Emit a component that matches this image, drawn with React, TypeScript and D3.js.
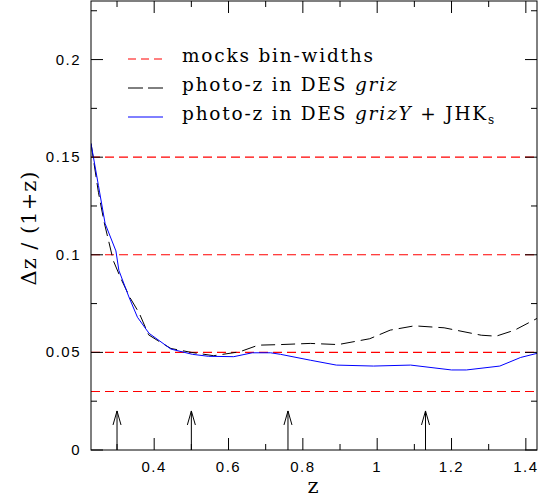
import React from "react";
import * as d3 from "d3";

const W = 546;
const H = 499;

// horizontal reference lines (mock bin widths)
const binWidths = [0.03, 0.05, 0.1, 0.15];
// arrows marking the bin centres
const arrowZ = [0.3, 0.5, 0.76, 1.13];

// photo-z in DES griz (dashed black)
const grizZ = [0.23, 0.25, 0.265, 0.29, 0.31, 0.335, 0.36, 0.385, 0.41, 0.445, 0.5, 0.56, 0.63, 0.68, 0.74, 0.82, 0.895, 0.98, 1.035, 1.1, 1.18, 1.28, 1.32, 1.37, 1.43];
const grizDz = [0.157, 0.132, 0.117, 0.097, 0.088, 0.078, 0.07, 0.059, 0.056, 0.052, 0.05, 0.0483, 0.0503, 0.0537, 0.054, 0.0546, 0.054, 0.057, 0.0614, 0.0636, 0.0626, 0.0588, 0.0583, 0.0614, 0.0674];

// photo-z in DES grizY + JHKs (solid blue)
const nirZ = [0.23, 0.25, 0.268, 0.297, 0.305, 0.332, 0.355, 0.386, 0.445, 0.503, 0.546, 0.614, 0.664, 0.713, 0.74, 0.82, 0.89, 0.99, 1.09, 1.2, 1.24, 1.33, 1.386, 1.43];
const nirDz = [0.157, 0.1355, 0.116, 0.102, 0.092, 0.0784, 0.068, 0.0598, 0.0517, 0.049, 0.048, 0.0478, 0.0498, 0.0498, 0.049, 0.046, 0.0435, 0.043, 0.0435, 0.041, 0.041, 0.043, 0.0474, 0.0495];

const xMajor = [0.4, 0.6, 0.8, 1, 1.2, 1.4];
const xMinor = [0.3, 0.5, 0.7, 0.9, 1.1, 1.3];
const xTickLabels = ["0.4", "0.6", "0.8", "1", "1.2", "1.4"];
const yMajor = [0, 0.05, 0.1, 0.15, 0.2];
const yMinor = [0.025, 0.075, 0.125, 0.175, 0.225];
const yTickLabels = ["0", "0.05", "0.1", "0.15", "0.2"];

const left = 91, right = 537, top = 1, bottom = 450;

const x = d3.scaleLinear().domain([0.23, 1.43]).range([left, right]);
const y = d3.scaleLinear().domain([0, 0.23]).range([bottom, top]);

const line = d3.line<[number, number]>()
  .x(d => x(d[0]))
  .y(d => y(d[1]))
  .curve(d3.curveLinear);

const tickFont = "'Liberation Sans', sans-serif";
const textFont = "'DejaVu Serif', serif";

export default function App() {
  const griz = line(grizZ.map((z, i) => [z, grizDz[i]] as [number, number])) || "";
  const nir = line(nirZ.map((z, i) => [z, nirDz[i]] as [number, number])) || "";

  const majLen = 12, minLen = 6;

  return (
    <svg width={W} height={H} style={{ position: "absolute", left: 0, top: 0, background: "#fff" }}>
      <defs>
        <clipPath id="plot">
          <rect x={left} y={top} width={right - left} height={bottom - top} />
        </clipPath>
      </defs>

      {/* bin-width lines */}
      <g stroke="#ff0000" strokeWidth={1.1} strokeDasharray="9,5">
        {binWidths.map(b => (
          <line key={b} x1={left} x2={right} y1={y(b)} y2={y(b)} />
        ))}
      </g>

      {/* curves */}
      <g clipPath="url(#plot)" fill="none">
        <path d={griz} stroke="#000" strokeWidth={1} strokeDasharray="14,6" />
        <path d={nir} stroke="#0000ff" strokeWidth={1} />
      </g>

      {/* arrows */}
      <g stroke="#000" strokeWidth={1} fill="none">
        {arrowZ.map(z => {
          const ax = x(z), tip = y(0.02);
          return (
            <g key={z}>
              <line x1={ax} x2={ax} y1={bottom} y2={tip} />
              <polyline points={`${ax - 4},${tip + 14} ${ax},${tip} ${ax + 4},${tip + 14}`} />
            </g>
          );
        })}
      </g>

      {/* frame and ticks */}
      <rect x={left} y={top} width={right - left} height={bottom - top} fill="none" stroke="#000" strokeWidth={1} />
      <g stroke="#000" strokeWidth={1}>
        {xMajor.concat(xMinor).map(v => {
          const len = xMajor.includes(v) ? majLen : minLen;
          return (
            <g key={"x" + v}>
              <line x1={x(v)} x2={x(v)} y1={bottom} y2={bottom - len} />
              <line x1={x(v)} x2={x(v)} y1={top} y2={top + len} />
            </g>
          );
        })}
        {yMajor.concat(yMinor).map(v => {
          const len = yMajor.includes(v) ? majLen : minLen;
          return (
            <g key={"y" + v}>
              <line x1={left} x2={left + len} y1={y(v)} y2={y(v)} />
              <line x1={right} x2={right - len} y1={y(v)} y2={y(v)} />
            </g>
          );
        })}
      </g>

      {/* tick labels */}
      <g fontFamily={tickFont} fontSize={15} letterSpacing={1.5} fill="#000">
        {xMajor.map((v, i) => (
          <text key={v} x={x(v)} y={472} textAnchor="middle">{xTickLabels[i]}</text>
        ))}
        {yMajor.map((v, i) => (
          <text key={v} x={81} y={y(v) + 5} textAnchor="end">{yTickLabels[i]}</text>
        ))}
      </g>

      {/* axis labels */}
      <text x={313} y={493} textAnchor="middle" fontFamily={textFont} fontSize={21}>z</text>
      <text transform="translate(36,228) rotate(-90)" textAnchor="middle" fontFamily={textFont} fontSize={21} letterSpacing={1}>
        Δz / (1+z)
      </text>

      {/* legend */}
      <g fontFamily={textFont} fontSize={18.5} letterSpacing={1.8} fill="#000">
        <line x1={128} x2={163} y1={59} y2={59} stroke="#ff0000" strokeDasharray="8,5" />
        <text x={182} y={62}>mocks bin-widths</text>

        <line x1={128} x2={163} y1={88} y2={88} stroke="#000" strokeDasharray="15,5" />
        <text x={182} y={91}>photo-z in DES <tspan fontStyle="italic">griz</tspan></text>

        <line x1={128} x2={163} y1={117} y2={117} stroke="#0000ff" />
        <text x={182} y={120}>
          photo-z in DES <tspan fontStyle="italic">grizY</tspan> + JHK
          <tspan fontSize={12} dy={4}>s</tspan>
        </text>
      </g>
    </svg>
  );
}
